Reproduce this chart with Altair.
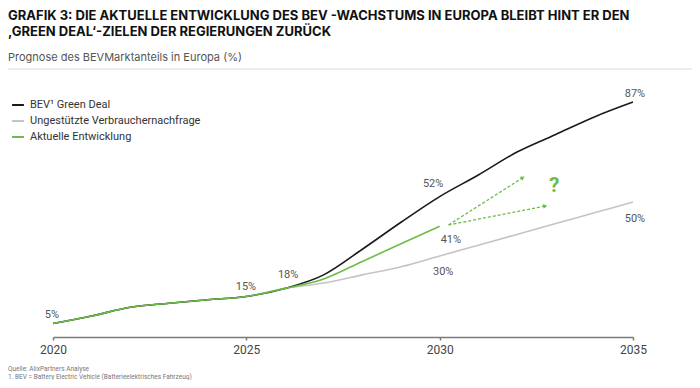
import altair as alt
import pandas as pd

# ---- data ----
years = list(range(2020, 2036))
green_deal = [5, 7.8, 11, 12.5, 13.8, 15, 18, 23, 32.5, 42.5, 52, 60, 68.5, 75, 81.5, 87]
unassisted = [5, 7.8, 11, 12.5, 13.8, 15, 18, 20, 23, 26, 30, 34, 38, 42, 46, 50]
current_years = list(range(2020, 2031))
current = [5, 7.8, 11, 12.5, 13.8, 15, 18, 21.5, 28, 34.5, 41]

series_names = ["BEV¹ Green Deal", "Ungestützte Verbrauchernachfrage", "Aktuelle Entwicklung"]
series_colors = ["#1a1a1a", "#c4c4c4", "#6cbd45"]

# value labels (text, x-year, y-%)
label_text = ["5%", "15%", "18%", "52%", "41%", "30%", "87%", "50%"]
label_x = [2019.97, 2024.99, 2026.08, 2029.83, 2030.29, 2030.09, 2035.05, 2035.05]
label_y = [8.0, 18.6, 23.0, 56.5, 36.0, 24.2, 90.0, 43.8]

# dashed "scenario" arrows
arrow_x = [2030.23, 2030.23]
arrow_y = [41.5, 41.5]
arrow_x2 = [2032.15, 2032.73]
arrow_y2 = [59.0, 48.5]
arrow_angle = [328, 350]

question_x = [2032.96]
question_y = [56.0]

x_ticks = [2020, 2025, 2030, 2035]

# ---- tables ----
rows = []
for y, v in zip(years, unassisted):
    rows.append({"year": y, "value": v, "series": series_names[1]})
for y, v in zip(years, green_deal):
    rows.append({"year": y, "value": v, "series": series_names[0]})
for y, v in zip(current_years, current):
    rows.append({"year": y, "value": v, "series": series_names[2]})
lines_df = pd.DataFrame(rows)

labels_df = pd.DataFrame({"t": label_text, "x": label_x, "y": label_y})
arrows_df = pd.DataFrame({"x": arrow_x, "y": arrow_y, "x2": arrow_x2, "y2": arrow_y2, "angle": arrow_angle})
q_df = pd.DataFrame({"x": question_x, "y": question_y, "t": ["?"]})

FONT = "Roboto"
TFONT = "Inter"
W, H = 580, 270

xscale = alt.Scale(domain=[2020, 2035], nice=False, zero=False)
yscale = alt.Scale(domain=[0, 100], nice=False)

color = alt.Color(
    "series:N",
    scale=alt.Scale(domain=series_names, range=series_colors),
    legend=alt.Legend(
        title=None,
        orient="none",
        legendX=-42,
        legendY=31,
        symbolType="stroke",
        symbolStrokeWidth=2,
        symbolSize=140,
        labelFont=FONT,
        labelFontSize=11,
        labelColor="#333333",
        labelLimit=400,
        rowPadding=4,
        labelOffset=5,
    ),
)

lines = []
for name in [series_names[1], series_names[0], series_names[2]]:
    sub = lines_df[lines_df.series == name]
    lines.append(
        alt.Chart(sub)
        .mark_line(interpolate="monotone", strokeWidth=1.6)
        .encode(
            x=alt.X(
                "year:Q",
                scale=xscale,
                axis=alt.Axis(
                    values=x_ticks,
                    format="d",
                    title=None,
                    grid=False,
                    domainColor="#7a7a7a",
                    domainWidth=1.5,
                    tickColor="#7a7a7a",
                    tickWidth=1.5,
                    tickSize=3,
                    labelFlush=False,
                    labelFont=FONT,
                    labelFontSize=12,
                    labelColor="#444444",
                    labelPadding=4,
                ),
            ),
            y=alt.Y("value:Q", scale=yscale, axis=None),
            color=color,
        )
    )

arrow_lines = alt.Chart(arrows_df).mark_rule(
    color="#6cbd45", strokeWidth=1.3, strokeDash=[3, 2]
).encode(
    x=alt.X("x:Q", scale=xscale), y=alt.Y("y:Q", scale=yscale),
    x2="x2:Q", y2="y2:Q",
)

arrow_heads = alt.Chart(arrows_df).mark_point(
    shape="triangle-right", filled=True, color="#6cbd45", size=22, opacity=1
).encode(
    x=alt.X("x2:Q", scale=xscale), y=alt.Y("y2:Q", scale=yscale),
    angle=alt.Angle("angle:Q", scale=None),
)

qmark = alt.Chart(q_df).mark_text(
    font=FONT, fontSize=21, fontWeight="bold", color="#6cbd45", baseline="middle"
).encode(
    x=alt.X("x:Q", scale=xscale), y=alt.Y("y:Q", scale=yscale), text="t:N"
)

value_labels = alt.Chart(labels_df).mark_text(
    font=FONT, fontSize=11, color="#555555", baseline="middle", align="center"
).encode(
    x=alt.X("x:Q", scale=xscale), y=alt.Y("y:Q", scale=yscale), text="t:N"
)

# ---- titles & notes ----
title_lines = [
    "GRAFIK 3: DIE AKTUELLE ENTWICKLUNG DES BEV -WACHSTUMS IN EUROPA BLEIBT HINT ER DEN",
    "‚GREEN DEAL‘-ZIELEN DER REGIERUNGEN ZURÜCK",
]
subtitle = "Prognose des BEVMarktanteils in Europa (%)"
notes = ["Quelle: AlixPartners Analyse", "1. BEV = Battery Electric Vehicle (Batterieelektrisches Fahrzeug)"]

def txt(s, y, size, font, weight="normal", col="#222222"):
    return alt.Chart(pd.DataFrame({"t": [s]})).mark_text(
        font=font, fontSize=size, fontWeight=weight, color=col, align="left", baseline="alphabetic"
    ).encode(x=alt.value(-45), y=alt.value(y), text="t:N")

t1 = txt(title_lines[0], -47, 13, TFONT, "bold", "#111111")
t2 = txt(title_lines[1], -31.5, 13, TFONT, "bold", "#111111")
st = txt(subtitle, -6.5, 11, TFONT, "normal", "#555555")
n1 = txt(notes[0], 304, 6.5, FONT, "normal", "#777777")
n2 = txt(notes[1], 311.5, 6.5, FONT, "normal", "#777777")

sep = alt.Chart(pd.DataFrame({"a": [0]})).mark_rule(color="#d9d9d9", strokeWidth=1).encode(
    x=alt.value(-45), x2=alt.value(W + 62), y=alt.value(2)
)

chart = alt.layer(
    sep, *lines, arrow_lines, arrow_heads, qmark, value_labels, t1, t2, st, n1, n2
).properties(
    width=W, height=H,
    autosize=alt.AutoSizeParams(type="none"),
    padding={"left": 45, "top": 59, "right": 59, "bottom": 43},
).configure_view(stroke=None)

chart.save("out.html", embed_options={"renderer": "svg", "actions": False})
